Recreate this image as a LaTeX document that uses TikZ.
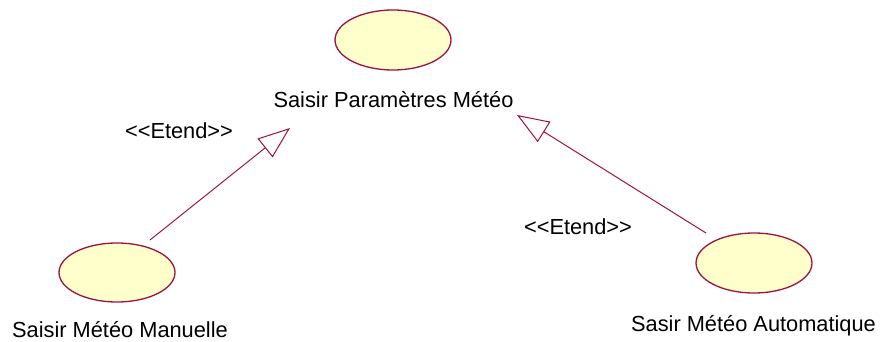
\documentclass[tikz,border=0pt]{standalone}
\usepackage{fontspec}
\setmainfont{Liberation Sans}
\usetikzlibrary{arrows.meta}
\definecolor{ucline}{RGB}{160,16,64}
\definecolor{ucfill}{RGB}{255,255,204}
\begin{document}
\begin{tikzpicture}[x=1pt,y=-1pt,
  usecase/.style={draw=ucline,fill=ucfill,line width=1.3pt},
  lbl/.style={anchor=base,inner sep=0pt,font=\fontsize{21.8}{25}\selectfont},
  extends/.style={draw=ucline,line width=1pt,-{Triangle[open,length=32pt,width=24pt,line width=1pt]}}]
\useasboundingbox (0,0) rectangle (880,342);
% use cases
\draw[usecase] (393,40) ellipse [x radius=58, y radius=30];
\draw[usecase] (117,272.5) ellipse [x radius=58, y radius=29.5];
\draw[usecase] (754,263) ellipse [x radius=58, y radius=30];
% labels
\node[lbl] (top) at (393.5,107) {Saisir Paramètres Météo};
\node[lbl] (man) at (120,337) {Saisir Météo Manuelle};
\node[lbl] (auto) at (753.5,331) {Sasir Météo Automatique};
\node[lbl] (e1) at (179,139) {<{}<Etend>{}>};
\node[lbl] (e2) at (578,234) {<{}<Etend>{}>};
% connector ends
\coordinate (s1) at (150,240);
\coordinate (t1) at (290,128);
\coordinate (s2) at (706,233);
\coordinate (t2) at (517,115);
\draw[extends] (s1) -- (t1);
\draw[extends] (s2) -- (t2);
\end{tikzpicture}
\end{document}
